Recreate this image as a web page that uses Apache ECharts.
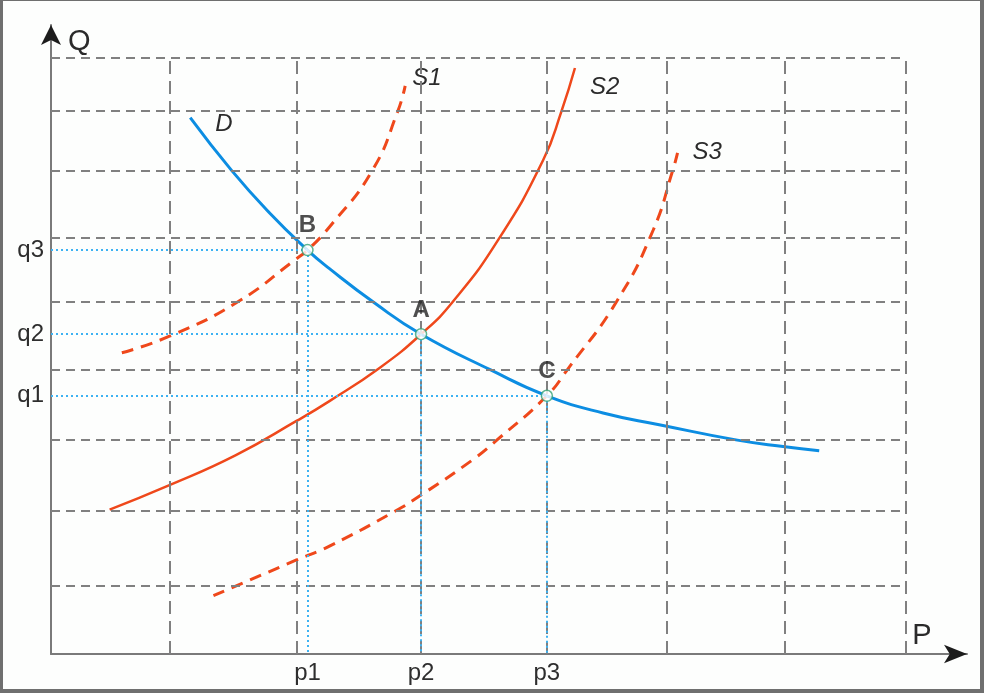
<!DOCTYPE html>
<html>
<head>
<meta charset="utf-8">
<script src="https://cdn.jsdelivr.net/npm/echarts@6/dist/echarts.min.js"></script>
<style>
  html, body { margin: 0; padding: 0; background: #fdfefd; }
  #wrap { position: relative; width: 984px; height: 693px; }
  #chart { position: absolute; left: 0; top: 0; width: 984px; height: 693px; }
  #frame { position: absolute; left: 0; top: 0; width: 984px; height: 693px; box-sizing: border-box;
           border-style: solid; border-color: #6f6f6f; border-width: 1px 4px 4px 3px; pointer-events: none; }
</style>
</head>
<body>
<div id="wrap"><div id="chart"></div><div id="frame"></div></div>
<script>
// ---- data (axis units: P horizontal, Q vertical) ----
const gridXs = [0.97, 2.01, 3.03, 4.06, 5.04, 6.01, 7.0];
const gridYs = [1.03, 2.16, 3.23, 4.30, 5.32, 6.28, 7.30, 8.20, 9.0];

const pointNames = ['B', 'A', 'C'];
const pointX = [2.10, 3.03, 4.06];
const pointY = [6.10, 4.83, 3.90];

const pLabels = ['p1', 'p2', 'p3'];
const qLabels = ['q3', 'q2', 'q1'];

// demand curve listed from right to left so its end label sits at the upper-left
const curveD = [[6.29,3.07],[6.01,3.13],[5.62,3.23],[4.99,3.46],[4.52,3.64],[4.06,3.90],[3.60,4.29],[3.03,4.83],[2.65,5.30],[2.28,5.82],[2.10,6.10],[1.79,6.66],[1.48,7.30],[1.14,8.10]];
const curveS1 = [[0.58,4.55],[0.97,4.80],[1.53,5.32],[2.01,5.97],[2.10,6.10],[2.28,6.45],[2.63,7.30],[2.84,8.20],[2.90,8.58]];
const curveS2 = [[0.48,2.18],[0.97,2.55],[1.51,3.00],[2.01,3.52],[2.28,3.82],[2.69,4.32],[3.03,4.83],[3.29,5.32],[3.66,6.25],[4.03,7.46],[4.18,8.20],[4.29,8.85]];
const curveS3 = [[1.33,0.88],[2.01,1.42],[2.28,1.63],[2.82,2.16],[3.03,2.40],[3.45,2.93],[3.65,3.23],[4.06,3.90],[4.23,4.30],[4.63,5.32],[4.93,6.40],[5.09,7.30],[5.13,7.57]];

const xMax = 7.5, yMax = 9.5;

// ---- styles ----
const FONT = '"Liberation Sans", Arial, sans-serif';
const RED = '#ef481b';
const BLUE = '#0c8de2';
const GUIDE = '#3db2f2';
const GRIDC = '#808080';
const AXISC = '#7a7a7a';

function labelFor(values, names) {
  return function (v) {
    for (let i = 0; i < values.length; i++) if (Math.abs(values[i] - v) < 1e-6) return names[i];
    return '';
  };
}

const gridTop = Math.max(...gridYs);
const gridRight = Math.max(...gridXs);

const vLines = gridXs.map(x => [{ coord: [x, 0] }, { coord: [x, gridTop] }]);
const hLines = gridYs.map(y => [{ coord: [0, y] }, { coord: [gridRight, y] }]);
const guideLines = [];
pointX.forEach((x, i) => {
  guideLines.push([{ coord: [0, pointY[i]] }, { coord: [x, pointY[i]] }]);
  guideLines.push([{ coord: [x, pointY[i]] }, { coord: [x, 0] }]);
});

function mlSeries(name, lines, style, z) {
  return {
    name, type: 'line', data: [], z, silent: true,
    markLine: {
      silent: true, symbol: ['none', 'none'], label: { show: false },
      animation: false, emphasis: { disabled: true },
      lineStyle: style, data: lines
    }
  };
}

function curve(name, data, dashed, width, color, lbl) {
  return {
    name, type: 'line', data, smooth: 0.5, symbol: 'none', z: 3, silent: true,
    lineStyle: { color, width, type: dashed ? [12, 8] : 'solid', cap: 'butt' },
    endLabel: {
      show: true, formatter: name, distance: lbl.distance, offset: lbl.offset,
      fontFamily: FONT, fontSize: 24, fontStyle: 'italic', color: '#2b2b2b'
    }
  };
}

const chart = echarts.init(document.getElementById('chart'), null, { renderer: 'canvas' });
chart.setOption({
  animation: false,
  backgroundColor: '#fdfefd',
  grid: { left: 51, top: 25, right: 17, bottom: 39, containLabel: false },
  xAxis: [{
    type: 'value', min: 0, max: xMax, position: 'bottom',
    splitLine: { show: false }, axisTick: { show: false },
    axisLine: { onZero: false, lineStyle: { color: AXISC, width: 2 } },
    axisLabel: {
      customValues: pointX, formatter: labelFor(pointX, pLabels), margin: 7,
      fontFamily: FONT, fontSize: 24, color: '#2e2e2e'
    },
    name: 'P', nameLocation: 'end', nameGap: -45,
    nameTextStyle: { fontFamily: FONT, fontSize: 29, color: '#2a2a2a', align: 'center', verticalAlign: 'bottom', padding: [0, 0, 4, 0] }
  }, {
    type: 'value', min: 0, max: xMax, position: 'bottom',
    splitLine: { show: false }, axisTick: { show: false }, axisLabel: { show: false },
    axisLine: { onZero: false, symbol: ['none', 'arrow'], symbolSize: [14, 23], lineStyle: { color: '#1c1c1c', width: 0 } }
  }],
  yAxis: [{
    type: 'value', min: 0, max: yMax, position: 'left',
    splitLine: { show: false }, axisTick: { show: false },
    axisLine: { onZero: false, lineStyle: { color: AXISC, width: 2 } },
    axisLabel: {
      customValues: pointY, formatter: labelFor(pointY, qLabels), margin: 7,
      fontFamily: FONT, fontSize: 24, color: '#2e2e2e'
    },
    name: 'Q', nameLocation: 'end', nameGap: -17,
    nameTextStyle: { fontFamily: FONT, fontSize: 29, color: '#2a2a2a', align: 'left', verticalAlign: 'middle', padding: [0, 0, 0, 17] }
  }, {
    type: 'value', min: 0, max: yMax, position: 'left',
    splitLine: { show: false }, axisTick: { show: false }, axisLabel: { show: false },
    axisLine: { onZero: false, symbol: ['none', 'arrow'], symbolSize: [15, 20], lineStyle: { color: '#1c1c1c', width: 0 } }
  }],
  series: [
    mlSeries('gridV', vLines, { color: GRIDC, width: 2, type: [13, 7], opacity: 1 }, 1),
    mlSeries('gridH', hLines, { color: GRIDC, width: 2, type: [9, 6], opacity: 1 }, 1),
    mlSeries('guides', guideLines, { color: GUIDE, width: 2, type: [2, 3], opacity: 1 }, 2),
    curve('S1', curveS1, true, 3, RED, { distance: 7, offset: [0, -8] }),
    curve('S2', curveS2, false, 2.5, RED, { distance: 15, offset: [0, 19] }),
    curve('S3', curveS3, true, 3, RED, { distance: 15, offset: [0, 0] }),
    curve('D', curveD, false, 3, BLUE, { distance: 25, offset: [0, 7] }),
    {
      name: 'points', type: 'scatter', z: 5, silent: true,
      data: pointX.map((x, i) => ({ name: pointNames[i], value: [x, pointY[i]] })),
      symbol: 'circle', symbolSize: 11,
      itemStyle: { color: '#ffffff', borderColor: '#35a276', borderWidth: 1.5 },
      label: {
        show: true, position: 'top', distance: 6, formatter: '{b}',
        fontFamily: FONT, fontSize: 24, fontWeight: 'bold', color: '#222'
      }
    }
  ]
});
</script>
</body>
</html>
